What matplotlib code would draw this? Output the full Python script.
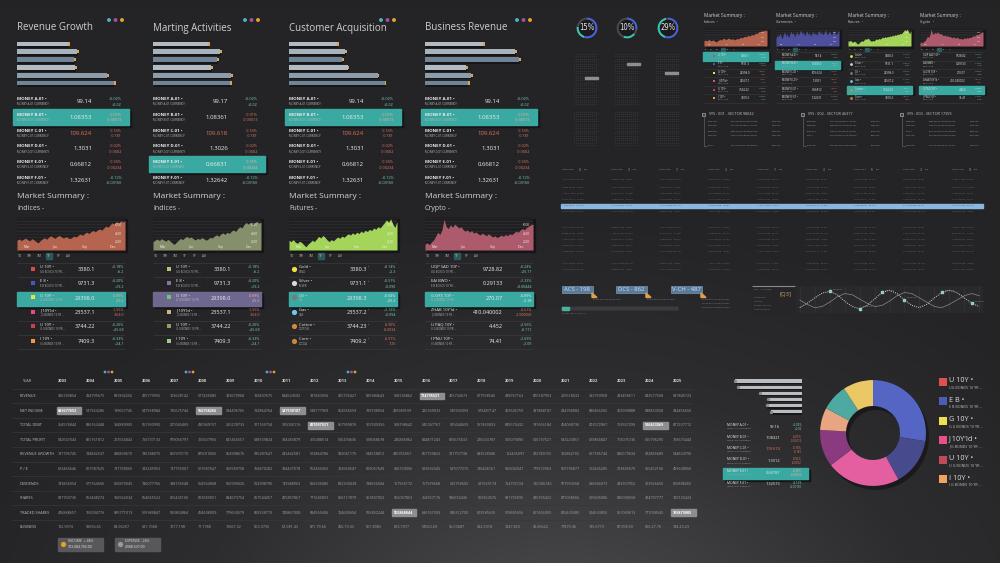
#!/usr/bin/env python3
"""
Dark finance dashboard: KPI bar panels with currency rows, market summary
cards, a yearly figures table, ticker widgets and a donut breakdown.
Saves out.png (1000x563).
"""

import numpy as np
import matplotlib
matplotlib.use("Agg")
import matplotlib.pyplot as plt
from matplotlib.patches import Rectangle, Polygon
from matplotlib.colors import LinearSegmentedColormap

plt.rcParams["font.family"] = ["Open Sans", "DejaVu Sans"]

W, H = 1000, 563

# ---------------- KPI panels ----------------
kpi_titles = ["Revenue Growth", "Marting Activities", "Customer Acquisition", "Business Revenue"]
kpi_bars = [[51, 60, 57, 58, 90, 97],
            [55, 67, 64, 58, 78, 77],
            [48, 56, 53, 59, 89, 96],
            [58, 90, 94, 41, 46, 43]]
money_names = ["MONEY A-01", "MONEY B-01", "MONEY C-01", "MONEY D-01", "MONEY E-01", "MONEY F-01"]
kpi_values = [["99.14", "1.08353", "109.624", "1.3031", "0.66812", "1.32631"],
              ["99.17", "1.08361", "109.618", "1.3026", "0.66831", "1.32642"],
              ["99.14", "1.08353", "109.624", "1.3031", "0.66812", "1.32631"],
              ["99.14", "1.08353", "109.624", "1.3031", "0.66812", "1.32631"]]
money_pct = ["+0.02%", "-0.01%", "-0.16%", "-0.02%", "-0.35%", "+0.12%"]
money_abs = ["+0.02", "-0.00013", "-0.181", "-0.0002", "-0.00234", "+0.00160"]
kpi_highlight = [1, 4, 1, 1]

# ---------------- market summary cards ----------------
ms_subtitles = ["Indices", "Indices", "Futures", "Crypto"]
ms_dot_colors = ["#e09a30", "#6cc040", "#e09a30", "#e09a30"]
area_colors = ["#b4644f", "#868f6b", "#a5d45a", "#ae5a6d"]
month_labels = ["Mar", "Jun", "Sep", "Dec"]
axis_labels = ["6000", "4000", "2000"]
tab_labels = ["1D", "1W", "3M", "1Y", "5Y", "All"]
tab_highlight = [3, None, 3, 3]

indices_series = [0.30, 0.34, 0.29, 0.33, 0.37, 0.32, 0.28, 0.35, 0.31, 0.26, 0.22, 0.29, 0.34,
                  0.38, 0.33, 0.40, 0.44, 0.39, 0.36, 0.42, 0.45, 0.40, 0.37, 0.41, 0.38, 0.35,
                  0.39, 0.43, 0.40, 0.46, 0.49, 0.45, 0.52, 0.55, 0.51, 0.57, 0.60, 0.56, 0.62,
                  0.65, 0.61, 0.68, 0.74, 0.70, 0.78, 0.84, 0.80, 0.88, 0.83, 0.90, 0.86, 0.91]
olive_series = [0.26, 0.30, 0.34, 0.29, 0.35, 0.31, 0.27, 0.33, 0.28, 0.22, 0.17, 0.24, 0.30,
                0.36, 0.32, 0.38, 0.42, 0.37, 0.40, 0.35, 0.31, 0.36, 0.33, 0.38, 0.35, 0.30,
                0.34, 0.39, 0.37, 0.43, 0.47, 0.42, 0.49, 0.53, 0.48, 0.55, 0.51, 0.58, 0.62,
                0.57, 0.66, 0.72, 0.68, 0.79, 0.85, 0.80, 0.86, 0.78, 0.84, 0.88, 0.83, 0.86]
futures_series = [0.30, 0.26, 0.32, 0.24, 0.21, 0.27, 0.23, 0.16, 0.10, 0.18, 0.24, 0.30, 0.26,
                  0.34, 0.42, 0.37, 0.45, 0.39, 0.31, 0.26, 0.32, 0.28, 0.35, 0.40, 0.36, 0.43,
                  0.39, 0.45, 0.50, 0.46, 0.53, 0.48, 0.55, 0.51, 0.58, 0.54, 0.61, 0.57, 0.64,
                  0.60, 0.68, 0.64, 0.72, 0.68, 0.76, 0.84, 0.93, 0.86, 0.96, 0.80, 0.70, 0.88]
crypto_series = [0.18, 0.22, 0.16, 0.25, 0.30, 0.42, 0.55, 0.48, 0.62, 0.95, 0.72, 0.66, 0.78,
                 0.70, 0.80, 0.74, 0.68, 0.72, 0.63, 0.58, 0.62, 0.55, 0.60, 0.52, 0.56, 0.50,
                 0.46, 0.52, 0.48, 0.44, 0.50, 0.45, 0.40, 0.44, 0.38, 0.42, 0.46, 0.42, 0.48,
                 0.44, 0.50, 0.47, 0.53, 0.58, 0.55, 0.62, 0.66, 0.63, 0.70, 0.74, 0.78, 0.80]
currencies_series = [0.45, 0.62, 0.50, 0.72, 0.58, 0.40, 0.66, 0.80, 0.55, 0.70, 0.48, 0.62, 0.85,
                     0.68, 0.75, 0.52, 0.66, 0.82, 0.60, 0.74, 0.90, 0.70, 0.78, 0.58, 0.72, 0.86,
                     0.64, 0.76, 0.55, 0.70, 0.82, 0.66, 0.74, 0.60, 0.78, 0.88, 0.68, 0.80, 0.62,
                     0.75, 0.92, 0.70, 0.66, 0.82, 0.74, 0.60, 0.78, 0.86, 0.70, 0.64, 0.80, 0.90]

idx_names = ["U 10Y", "E 8", "G 10Y", "J 10Y'Id", "U 10Y", "I 10Y"]
idx_subs = ["UG BONDS 10 YR ...", "E B BONDS 10 YR ...", "G G BONDS 10 YR ...",
            "J G BONDS 10 YR ...", "U G BONDS 10 YR ...", "I G BONDS 10 YR ..."]
idx_values = ["3380.1", "9731.3", "29398.0", "23537.1", "3744.22", "7409.3"]
idx_pct = ["+0.18%", "+0.20%", "-0.09%", "-1.55%", "+0.20%", "+0.33%"]
idx_abs = ["+6.2", "+19.2", "-25.2", "-364.0", "+35.68", "+24.1"]
idx_icons_a = ["#e04848", "#4858b8", "#f0e040", "#e8488e", "#c8404e", "#f09a40"]
idx_icons_b = ["#b8bf7a", "#8c6ea8", "#6cc870", "#c8b880", "#9a9a60", "#9cc888"]

fut_names = ["Gold", "Silver", "Oil", "Gas", "Cotton", "Corn"]
fut_subs = ["GOLD", "SILVER", "OIL", "GAS", "COTTON", "COCOA"]
fut_values = ["3380.3", "9731.1", "29398.3", "23537.2", "3744.23", "7409.2"]
fut_pct = ["+0.14%", "+0.51%", "+0.04%", "+1.12%", "-0.90%", "-6.91%"]
fut_abs = ["+2.3", "+0.090", "+25.2", "+0.094", "-0.0034", "-725"]
fut_icons = ["#f2e040", "#d8d8d8", "#7a7a7a", "#70c8f0", "#d88838", "#c88838"]

cry_names = ["UQP SAD 10Y", "EAI BWO", "G.GYX 10Y", "ZHAB 10Y'Id", "U PAQ 10Y", "I PNU 10Y"]
cry_values = ["9728.82", "0.29133", "270.07", "410.040002", "4.452", "74.41"]
cry_pct = ["+0.24%", "+1.33%", "+0.89%", "-0.61%", "+2.56%", "+1.69%"]
cry_abs = ["+25.71", "+0.00444", "+2.38", "-2.500000", "+0.111", "+1.09"]

# ---------------- yearly table ----------------
years = ["2003", "2004", "2005", "2006", "2007", "2008", "2009", "2010", "2011", "2012", "2013", "2014",
         "2015", "2016", "2017", "2018", "2019", "2020", "2021", "2022", "2023", "2024", "2025"]
row_labels = ["REVENUE", "NET INCOME", "TOTAL DEBT", "TOTAL PROFIT", "REVENUE GROWTH", "P / E",
              "DIVIDENDS", "SHARES", "TRADED SHARES", "BUSINESS"]
revenue = ["336749854", "424795675", "697892256", "425779955", "723628142", "577426085", "333679968",
           "192897675", "844624592", "337843056", "415735427", "095984643", "968146862", "714795521",
           "405734573", "677558545", "438967163", "870187953", "255518032", "393759958", "333458611",
           "842577558", "087845723"]
net_income = ["843677652", "547924286", "189657745", "647958984", "735675744", "956758266", "944496765",
              "732864764", "547538107", "548177969", "064556559", "799198054", "456989109", "220369033",
              "545992059", "575487147", "422546759", "337868187", "424768082", "836866265", "412999888",
              "848853558", "434456656"]
total_debt = ["364576844", "836163448", "394889905", "561990990", "227065469", "430969157", "260278733",
              "321169734", "765000176", "837097531", "057959876", "907500356", "968198642", "640067767",
              "065644659", "967850053", "845575432", "797666184", "454068736", "403572967", "753557299",
              "526823069", "877207712"]
total_profit = ["942647043", "831161812", "213556843", "756737133", "979065797", "705637956", "841466557",
                "538109824", "394283879", "305088514", "516294636", "518068678", "246886962", "844871243",
                "815675633", "226033787", "765075890", "526197521", "533223851", "679866847", "713075736",
                "625796295", "793675444"]
revenue_growth = ["787795745", "744842537", "438899670", "746188075", "865970170", "875010565", "054998676",
                  "980287647", "443442581", "513864786", "933061175", "544558812", "436765067", "667759823",
                  "327757738", "843528946", "153436097", "422780155", "392862165", "627185744", "846579634",
                  "422865689", "544634790"]
pe_ratio = ["623466646", "601587625", "737758065", "343245953", "147755907", "611687647", "955589758",
            "766870282", "334437078", "562446055", "322669647", "659057649", "956734906", "523692045",
            "537077275", "736406161", "556682047", "779572063", "569196877", "753426285", "213845670",
            "955452166", "455608066"]
dividends = ["743836054", "577164566", "656870045", "746077766", "338735548", "964964068", "560990626",
             "504998790", "143988963", "866536085", "822330038", "738656944", "757956172", "757976668",
             "625759605", "531559174", "754735724", "120006743", "977953558", "530666973", "433967952",
             "313566656", "665888265"]
shares = ["687769736", "563448274", "766562034", "564665523", "655435106", "812689051", "834673754",
          "657544457", "405857867", "777640053", "656117879", "957847052", "555057853", "364967176",
          "946656436", "555853576", "691735095", "436765423", "877058566", "309436086", "686090658",
          "424797777", "720125424"]
traded_shares = ["416888657", "765094776", "085771013", "515989847", "565863864", "414648009", "779634579",
                 "833558770", "748867008", "834565436", "724649654", "506862244", "555868844", "636167503",
                 "686312700", "673585635", "579685556", "667666005", "825435085", "524633855", "957069613",
                 "777008545", "755879085"]
business = ["122.9974", "99656.65", "68.06207", "531.7068", "7017.198", "77.1788", "75667.32", "003.3735",
            "67.081.43", "871.79.66", "456.19.43", "801.8983", "803.7977", "54560.69", "95.00687",
            "642.5074", "7247.853", "45.66622", "77879.46", "735.6773", "87.958.69", "066.27.76", "784.20.23"]
table_highlights = [(0, 13), (1, 0), (1, 5), (1, 8), (2, 9), (2, 21), (8, 12), (8, 22)]

# ---------------- top right widgets ----------------
gauge_labels = ["15%", "10%", "29%"]
gauge_parts = [[0.55, 0.22, 0.23], [0.28, 0.08, 0.20, 0.44], [0.55, 0.42, 0.03]]
gauge_colors = [["#4a62d8", "#3cc4b4", "#48484b"],
                ["#4a62d8", "#48484b", "#3cc4b4", "#48484b"],
                ["#4a62d8", "#3cc4b4", "#48484b"]]
mini_subtitles = ["Indices", "Currencies", "Futures", "Crypto"]
mini_colors = ["#b4644f", "#4d4f9c", "#a5d45a", "#ae5a6d"]
mini_highlight = [0, 1, 4, 4]
sys_labels = ["SYS : 001 - SECTOR 98042", "SYS : 002 - SECTOR 46317", "SYS : 003 - SECTOR 17359"]
sys_codes = [["4245193", "8553268", "7368403", "3005704", "47477"],
             ["20743002001234567890", "81112345008971123401", "79808407012340081256",
              "67390124578800162341", "00120708401160788840"],
             ["1816098", "3052847", "2430597", "3076149", "8851347"]]
grid_heads = ["82", "47", "75", "47", "77", "47", "65", "47", "58"]
grid_cells = ["10012.85690  33.128", "20356.40078  18.604", "11877.21354  72.003",
              "30542.97511  41.860", "12290.66731  90.215", "47013.08246  25.477"]
box_labels = ["ACS - 198", "DCS - 862", "V-CH - 487"]
wave_a = [0.15, 0.35, 0.60, 0.82, 0.90, 0.75, 0.45, 0.20, 0.10, 0.25, 0.55, 0.85, 0.95,
          0.80, 0.50, 0.25, 0.15, 0.30, 0.60, 0.85, 0.95, 0.85, 0.60, 0.35, 0.20]
wave_b = [0.50, 0.30, 0.15, 0.20, 0.40, 0.65, 0.80, 0.75, 0.55, 0.35, 0.20, 0.25, 0.45,
          0.70, 0.85, 0.80, 0.60, 0.40, 0.20, 0.15, 0.30, 0.50, 0.70, 0.80, 0.70]
wave_marks = [4, 8, 11, 14, 19, 23]

# ---------------- bottom right ----------------
br_bars = [68, 65, 43, 34, 36, 31]
br_values = ["99.16", "1.08321", "109.674", "1.3012", "0.66787", "1.32573"]
donut_values = [27.5, 14.6, 22.6, 11.3, 6.8, 8.1, 9.2]
donut_colors = ["#5565c4", "#484a8e", "#e45fa0", "#8a3a7e", "#e8a582", "#4fa9a3", "#e9c865"]
legend_names = ["U 10Y", "E B", "G 10Y", "J 10Y'Id", "U 10Y", "I 10Y"]
legend_colors = ["#e05050", "#4d5cb5", "#f0e050", "#e8508c", "#c04a5a", "#f0a460"]

TEAL = "#3aa9a2"
POS = "#7fd0c4"
NEG = "#e27a66"
DOTS = ["#4cb3b0", "#a0509e", "#e7a02a"]
KPI_X = [17, 153, 289, 425]
BAR_COLORS = ["#b3bbc2", "#a7b2ba", "#6f8497", "#b3bbc2", "#8c9cab", "#6f8497"]


def px_axes(fig, x, y, w, h, z=2, off=True):
    ax = fig.add_axes([x / W, 1 - (y + h) / H, w / W, h / H], zorder=z)
    if off:
        ax.set_axis_off()
    else:
        for s in ax.spines.values():
            s.set_visible(False)
        ax.set_xticks([])
        ax.set_yticks([])
    return ax


def txt(bg, x, y, s, size, color="#d8d8d8", ha="left", va="center", weight="normal", **kw):
    return bg.text(x, y, s, fontsize=size, color=color, ha=ha, va=va,
                   fontweight=weight, zorder=6, **kw)


def dot_after(bg, artist, color, size, xy=(1, 0.5)):
    bg.annotate("•", xy=xy, xycoords=artist, xytext=(0.8, 0), textcoords="offset points",
                ha="left", va="center", fontsize=size, color=color, zorder=6)


def sign_color(s, hl=False):
    if s.startswith("-"):
        return "#f4b0a2" if hl else NEG
    return "#e0f6f2" if hl else POS


def draw_background(fig):
    bg = px_axes(fig, 0, 0, W, H, z=0)
    yy, xx = np.mgrid[0:H:2, 0:W:2]
    d = np.hypot((xx - 560) / 620.0, (yy - 640) / 430.0)
    cmap = LinearSegmentedColormap.from_list("bgc", ["#434345", "#2d2d2f", "#242426"])
    bg.imshow(np.clip(d, 0, 1), cmap=cmap, extent=[0, W, H, 0], aspect="auto",
              interpolation="bilinear", zorder=0)
    return bg


def draw_area(ax, series, color, small=False):
    x = np.arange(len(series))
    ax.set_facecolor("#202022")
    for g in np.linspace(0.1, 0.9, 9):
        ax.axhline(g, color="#323235", lw=0.4, zorder=0)
    ax.fill_between(x, series, 0, color=color, lw=0, zorder=1)
    ax.set_xlim(0, len(series) - 1)
    ax.set_ylim(0, 1.02)
    fs = 1.4 if small else 2.5
    for frac, m in zip([0.06, 0.33, 0.6, 0.86], month_labels):
        ax.text(frac, 0.07, m, transform=ax.transAxes, fontsize=fs, color="#f0f0f0", zorder=3)
    for fy, lab in zip([0.72, 0.46, 0.2], axis_labels):
        ax.text(0.97, fy, lab, transform=ax.transAxes, fontsize=fs * 0.9, color="#f0f0f0",
                ha="right", zorder=3)


def draw_kpi_panel(fig, bg, i):
    x0 = KPI_X[i]
    txt(bg, x0, 28, kpi_titles[i], 7, "#cfcfcf")
    bg.scatter([x0 + 92, x0 + 98.5, x0 + 105], [20, 20, 20], s=8, c=DOTS, zorder=6, linewidths=0)

    ax = px_axes(fig, x0, 39.3, 112, 48.4)
    vals = kpi_bars[i]
    ypos = np.arange(len(vals))
    ax.barh(ypos + 0.22, vals, left=1.2, height=0.62, color="#161618", zorder=1)
    ax.barh(ypos, vals, height=0.62, color=BAR_COLORS, zorder=2)
    ax.barh(ypos, 1.5, left=vals, height=0.42, color="#d9a55a", zorder=3)
    ax.set_xlim(0, 112)
    ax.set_ylim(5.6, -0.6)

    for r in range(6):
        y = 99 + r * 15.8
        hl = r == kpi_highlight[i]
        if hl:
            bg.add_patch(Rectangle((x0 - 2, y - 4), 116, 16, color="#151517", zorder=2))
            bg.add_patch(Rectangle((x0 - 4, y - 6), 116, 16, color=TEAL, zorder=3))
        txt(bg, x0, y, money_names[r] + " •", 3.2, "#ededed", weight="bold")
        txt(bg, x0, y + 5.3, money_names[r] + " CURRENCY", 2.1, "#b8b8b8")
        vcol = "#e37258" if (r == 2 and not hl) else "#ededed"
        txt(bg, x0 + 75, y + 2.6, kpi_values[i][r], 4.3, vcol, ha="right")
        txt(bg, x0 + 105, y, money_pct[r], 2.7, sign_color(money_pct[r], hl), ha="right")
        txt(bg, x0 + 105, y + 5.5, money_abs[r], 2.7, sign_color(money_abs[r], hl), ha="right")


def market_rows(i):
    if i in (0, 1):
        icons = idx_icons_a if i == 0 else idx_icons_b
        return idx_names, idx_subs, idx_values, idx_pct, idx_abs, icons, "s"
    if i == 2:
        return fut_names, fut_subs, fut_values, fut_pct, fut_abs, fut_icons, "o"
    return cry_names, idx_subs, cry_values, cry_pct, cry_abs, None, None


def draw_market_panel(fig, bg, i):
    x0 = KPI_X[i]
    txt(bg, x0, 197, "Market Summary :", 6, "#d6d6d6")
    t = txt(bg, x0, 209, ms_subtitles[i], 5, "#d0d0d0")
    dot_after(bg, t, ms_dot_colors[i], 4)

    bg.add_patch(Rectangle((x0 + 1.5, 219), 108, 33, color="#161618", zorder=1))
    ax = px_axes(fig, x0, 217, 108, 33, off=False)
    draw_area(ax, area_series[i], area_colors[i])

    for k, lab in enumerate(tab_labels):
        tx = x0 + 3 + k * 9.6
        if k == tab_highlight[i]:
            bg.add_patch(Rectangle((tx - 3.2, 253), 6.4, 6, color="#2c5a5b", zorder=3))
        txt(bg, tx, 256, lab, 2.3, "#bdbdbd", ha="center")

    names, subs, vals, pcts, abss, icons, shape = market_rows(i)
    hl_color = "#6e6890" if i == 1 else TEAL
    bg.hlines([263 + r * 14.4 for r in range(7)], x0, x0 + 108, color="#3a3a3d", lw=0.5, zorder=2)
    for r in range(6):
        y = 267 + r * 14.4
        hl = r == 2
        if hl:
            bg.add_patch(Rectangle((x0 + 2, y - 2), 108, 14.4, color="#151517", zorder=2))
            bg.add_patch(Rectangle((x0, y - 4), 108, 14.4, color=hl_color, zorder=3))
        if shape == "s":
            bg.scatter([x0 + 16], [y + 1.5], marker="s", s=9, color=icons[r], zorder=6, linewidths=0)
            nx = x0 + 23
        elif shape == "o":
            bg.scatter([x0 + 5], [y + 1.5], marker="o", s=14, color=icons[r], zorder=6, linewidths=0)
            nx = x0 + 10
        else:
            nx = x0 + 6
        txt(bg, nx, y, names[r] + " •", 3.0, "#ededed")
        txt(bg, nx, y + 4.6, subs[r], 2.0, "#b4b4b4")
        v = txt(bg, x0 + 78, y + 2.3, vals[r], 4.0, "#ededed", ha="right")
        if shape == "o":
            dot_after(bg, v, "#e09a30", 2.2, xy=(1, 0.9))
        txt(bg, x0 + 107, y, pcts[r], 2.6, sign_color(pcts[r], hl), ha="right")
        txt(bg, x0 + 107, y + 5.2, abss[r], 2.6, sign_color(abss[r], hl), ha="right")


def draw_year_table(bg):
    col_x = [58 + k * 27.95 for k in range(len(years))]
    table_rows = [revenue, net_income, total_debt, total_profit, revenue_growth,
                  pe_ratio, dividends, shares, traded_shares, business]
    for dx in [105, 186, 267, 348]:
        bg.scatter([dx, dx + 3.5, dx + 7], [372, 372, 372], s=4, c=DOTS, zorder=6, linewidths=0)
    txt(bg, 22, 381, "YEAR", 2.8, "#bbbbbb")
    for k, yr in enumerate(years):
        txt(bg, col_x[k], 381, yr, 3.0, "#d0d0d0", weight="bold")
    bg.hlines([388.5 + r * 14.6 for r in range(10)], 12, 693, color="#38383b", lw=0.5, zorder=2)
    for r, lab in enumerate(row_labels):
        y = 396 + r * 14.6
        txt(bg, 20, y, lab, 2.7, "#c0c0c0")
        for k, v in enumerate(table_rows[r]):
            if (r, k) in table_highlights:
                bg.add_patch(Rectangle((col_x[k] - 1.5, y - 3.3), 24.5, 6.6, color="#8e8e90", zorder=3))
                txt(bg, col_x[k], y, v, 2.7, "#ffffff", weight="bold")
            else:
                txt(bg, col_x[k], y, v, 2.7, "#9e9e9e")

    for bx, head, amount, icon in [(58, "INCOME  + 48%", "313.084.765.00", "#e8a020"),
                                   (115, "EXPENSE - 24%", "4.908.537.00", "#9a9a9a")]:
        bg.add_patch(Rectangle((bx, 538), 45, 12.5, color="#58585c", zorder=3))
        bg.scatter([bx + 4.5], [544], s=14, color=icon, zorder=6, linewidths=0)
        txt(bg, bx + 10, 541.5, head, 2.5, "#d8d8d8")
        txt(bg, bx + 10, 547, amount, 2.5, "#e8e8e8")


def draw_gauges(fig, bg):
    for k, cx in enumerate([587, 627, 668]):
        ax = px_axes(fig, cx - 13, 15, 26, 26)
        ax.pie([1], colors=["#1b1b1d"], radius=0.8, wedgeprops=dict(linewidth=0))
        ax.pie(gauge_parts[k], colors=gauge_colors[k], startangle=90, counterclock=False,
               wedgeprops=dict(width=0.2, linewidth=0))
        ax.text(0, 0, gauge_labels[k], ha="center", va="center", fontsize=5.5, color="#e8e8e8",
                family="DejaVu Sans", fontstretch="condensed")

    # dot-matrix readouts below the gauges
    dots = "· " * 12
    rows_y = [55 + r * 2.4 for r in range(39) if not 22 <= r <= 23]
    for cx in [574, 615, 656]:
        for yy in rows_y:
            txt(bg, cx, yy, dots, 2.8, "#8a8a8c")
    for hx, hy in [(585, 78), (627, 64), (665, 73)]:
        bg.add_patch(Rectangle((hx, hy - 1.2), 13, 2.4, color="#8e8e90", zorder=7))


def draw_mini_panel(fig, bg, k):
    x0 = [704, 776, 848, 920][k]
    txt(bg, x0, 15, "Market Summary :", 3.4, "#d0d0d0")
    t = txt(bg, x0, 22, mini_subtitles[k], 2.6, "#cfcfcf")
    dot_after(bg, t, "#e09a30", 2.4)
    bg.add_patch(Rectangle((x0 + 1.5, 29.5), 63, 18, color="#161618", zorder=1))
    ax = px_axes(fig, x0, 28, 63, 18, off=False)
    draw_area(ax, mini_series[k], mini_colors[k], small=True)
    for j, lab in enumerate(tab_labels):
        tx = x0 + 2 + j * 5.5
        if j == 3:
            bg.add_patch(Rectangle((tx - 2, 47.8), 4, 3.4, color="#2c5a5b", zorder=3))
        txt(bg, tx, 49.5, lab, 1.4, "#aaaaaa", ha="center")

    if k == 0:
        names, vals, pcts, icons, shape, nx = idx_names, idx_values, idx_pct, idx_icons_a, "s", 14
    elif k == 1:
        names, vals, pcts, icons, shape, nx = money_names, kpi_values[0], money_pct, None, None, 6
    elif k == 2:
        names, vals, pcts, icons, shape, nx = fut_names, fut_values, fut_pct, fut_icons, "o", 7
    else:
        names, vals, pcts, icons, shape, nx = cry_names, cry_values, cry_pct, None, None, 3
    bg.hlines([52.2 + r * 8.4 for r in range(7)], x0, x0 + 63, color="#3a3a3d", lw=0.4, zorder=2)
    for r in range(6):
        y = 56 + r * 8.4
        hl = r == mini_highlight[k]
        if hl:
            bg.add_patch(Rectangle((x0 + 1, y - 2.6), 65, 8.4, color="#151517", zorder=2))
            bg.add_patch(Rectangle((x0 - 1, y - 3.8), 65, 8.4, color=TEAL, zorder=3))
        if shape == "s":
            bg.scatter([x0 + 10], [y], marker="s", s=3, color=icons[r], zorder=6, linewidths=0)
        elif shape == "o":
            bg.scatter([x0 + 3], [y], marker="o", s=4, color=icons[r], zorder=6, linewidths=0)
        txt(bg, x0 + nx, y - 1, names[r] + " •", 1.8, "#e6e6e6")
        txt(bg, x0 + nx, y + 1.8, "BONDS 10 YR ...", 1.2, "#a8a8a8")
        txt(bg, x0 + 46, y, vals[r], 2.1, "#e6e6e6", ha="right")
        txt(bg, x0 + 62, y - 1.2, pcts[r], 1.5, sign_color(pcts[r], hl), ha="right")
        txt(bg, x0 + 62, y + 1.5, pcts[r].rstrip("%"), 1.5, sign_color(pcts[r], hl), ha="right")


def draw_sys(bg):
    line_y = [121, 125, 132, 136, 146]
    for k, lab in enumerate(sys_labels):
        x = [702, 801, 900][k]
        bg.add_patch(Rectangle((x, 112.5), 3, 3, fc="#3a4048", ec="#9ab0c0", lw=0.5, zorder=5))
        txt(bg, x + 7, 114, lab, 2.7, "#c8c8c8")
        bg.plot([x + 1.5, x + 1.5, x + 4.5], [117, 146, 146], color="#707072", lw=0.4, zorder=5)
        for j, yy in enumerate(line_y):
            for c, off in enumerate([6, 29, 70]):
                txt(bg, x + off, yy, sys_codes[c][(j + k) % 5], 1.7, "#9a9a9a")


def draw_grid_block(fig, bg):
    cols = [562, 611, 659, 708, 757, 806, 854, 903, 952]
    rows_y = [180, 187, 193, 199, 206, 212, 227, 233, 239, 245, 251, 263, 269]
    bg.add_patch(Rectangle((561, 204.3), 422, 3.5, color="#8db6de", zorder=4))
    for c, cx in enumerate(cols):
        txt(bg, cx, 170, "0000 0000", 1.7, "#9a9a9a")
        txt(bg, cx + 17, 170, grid_heads[c], 1.9, "#5b8ad0")
        txt(bg, cx + 22, 170, "000", 1.7, "#9a9a9a")
        for r, yy in enumerate(rows_y):
            col = "#3d5a78" if yy == 206 else "#6e6e70"
            txt(bg, cx, yy, grid_cells[(r + c) % len(grid_cells)], 1.6, col)

    for k, lab in enumerate(box_labels):
        bx = [562, 616, 671][k]
        bg.add_patch(Rectangle((bx, 286), 31, 7, fc="#5a7a9a", ec="#86a8cc", lw=0.4, zorder=4))
        txt(bg, bx + 1.5, 289.5, lab, 4.3, "#cfe0f2")
        bg.add_patch(Polygon([[bx + 30, 293], [bx + 35, 297.5], [bx + 30, 297.5]],
                             closed=True, color="#e0a050", zorder=5))
        lines = 3 if k == 2 else 1
        for j in range(lines):
            txt(bg, bx + 31, 300 + j * 4, "00000 0000 00 000 000000", 1.6, "#8a8a8a")
    bg.add_patch(Rectangle((562, 307), 116, 3, fc="#38383a", ec="#555558", lw=0.3, zorder=4))
    bg.add_patch(Rectangle((562, 307), 7, 3, color="#4ab0a0", zorder=5))
    txt(bg, 562, 313.5, "000000  0000  0000  00", 1.6, "#8a8a8a")

    bg.add_patch(Rectangle((752, 286), 44, 27, color="#262628", zorder=3))
    bg.hlines([286], 752, 795, color="#8a8a8c", lw=0.8, zorder=5)
    txt(bg, 754, 290, "000 : 1 / 000-000", 1.6, "#9a9a9a")
    txt(bg, 786, 294.5, "[Q3]", 4.2, "#c8a060", ha="center")
    for j, yy in enumerate([298, 302, 306, 310]):
        txt(bg, 754, yy, ["000000 000", "0000 00", "000000 : 000 000", "0 00000 000000"][j], 1.5, "#8a8a8a")
    ax = px_axes(fig, 796, 286, 187, 27, off=False)
    ax.set_facecolor("#29292b")
    xw = np.arange(len(wave_a))
    for gx in xw[::2]:
        ax.axvline(gx, color="#38383b", lw=0.4, zorder=0)
    ax.plot(xw, wave_b, color="#8a8a8c", lw=0.5, zorder=2)
    ax.plot(xw, wave_a, color="#d4d4d4", lw=0.7, ls=(0, (1, 1.2)), zorder=3)
    marks = np.array(wave_marks)
    ax.scatter(xw[marks], np.array(wave_a)[marks], marker="s", s=4, color="#8fd0c0", zorder=4)
    for m in marks:
        ax.text(xw[m] + 0.4, wave_a[m] + 0.08, "00 00 000", fontsize=1.4, color="#aaaaaa", zorder=4)
    ax.set_xlim(-0.5, len(wave_a) - 0.5)
    ax.set_ylim(-0.1, 1.15)


def draw_bottom_right(fig, bg):
    ax = px_axes(fig, 731, 377.3, 72, 38)
    y = np.arange(len(br_bars))
    ax.barh(y + 0.25, br_bars, height=0.5, color="#18181a", zorder=1)
    ax.barh(y, br_bars, height=0.5, color="#b9bdc1", zorder=2)
    ax.scatter(br_bars, y, s=2, color="#8a8a8a", zorder=3)
    ax.set_xlim(72, -1)
    ax.set_ylim(5.6, -0.6)

    for r in range(6):
        yy = 425 + r * 11.5
        hl = r == 4
        if hl:
            bg.add_patch(Rectangle((725, yy - 1.5), 85, 11.5, color="#151517", zorder=2))
            bg.add_patch(Rectangle((723, yy - 3.5), 85, 11.5, color=TEAL, zorder=3))
        txt(bg, 727, yy, money_names[r] + " •", 2.3, "#e8e8e8")
        txt(bg, 727, yy + 3.8, money_names[r] + " CURRENCY", 1.5, "#aaaaaa")
        vcol = "#e37258" if r == 2 else "#e8e8e8"
        txt(bg, 780, yy + 1.5, br_values[r], 2.9, vcol, ha="right")
        txt(bg, 802, yy, money_pct[r], 2.1, sign_color(money_pct[r], hl), ha="right")
        txt(bg, 802, yy + 4, money_abs[r], 2.1, sign_color(money_abs[r], hl), ha="right")

    sh = px_axes(fig, 822, 383, 108, 108, z=1.5)
    sh.pie([1], colors=["#141416"], wedgeprops=dict(width=0.49, linewidth=0, alpha=0.7))
    sh.set_xlim(-1.02, 1.02)
    sh.set_ylim(-1.02, 1.02)
    ax = px_axes(fig, 819, 379, 108, 108)
    ax.pie(donut_values, colors=donut_colors, startangle=90, counterclock=False,
           wedgeprops=dict(width=0.49, linewidth=0))
    ax.set_xlim(-1.02, 1.02)
    ax.set_ylim(-1.02, 1.02)

    for r, name in enumerate(legend_names):
        yy = 382 + r * 19.4
        bg.scatter([942.5], [yy], marker="s", s=26, color=legend_colors[r], zorder=6, linewidths=0)
        txt(bg, 949, yy - 1, name + " •", 5.2, "#dedede")
        txt(bg, 949, yy + 6, idx_subs[r], 2.6, "#bdbdbd")


area_series = [indices_series, olive_series, futures_series, crypto_series]
mini_series = [indices_series, currencies_series, futures_series, crypto_series]


def main():
    fig = plt.figure(figsize=(10, 5.63), dpi=100)
    fig.patch.set_facecolor("#262628")
    bg = draw_background(fig)

    for i in range(4):
        draw_kpi_panel(fig, bg, i)
        draw_market_panel(fig, bg, i)
    draw_year_table(bg)
    draw_gauges(fig, bg)
    for k in range(4):
        draw_mini_panel(fig, bg, k)
    draw_sys(bg)
    draw_grid_block(fig, bg)
    draw_bottom_right(fig, bg)

    bg.set_xlim(0, W)
    bg.set_ylim(H, 0)
    fig.savefig("out.png", dpi=100, facecolor=fig.get_facecolor())
    plt.close(fig)


if __name__ == "__main__":
    main()
